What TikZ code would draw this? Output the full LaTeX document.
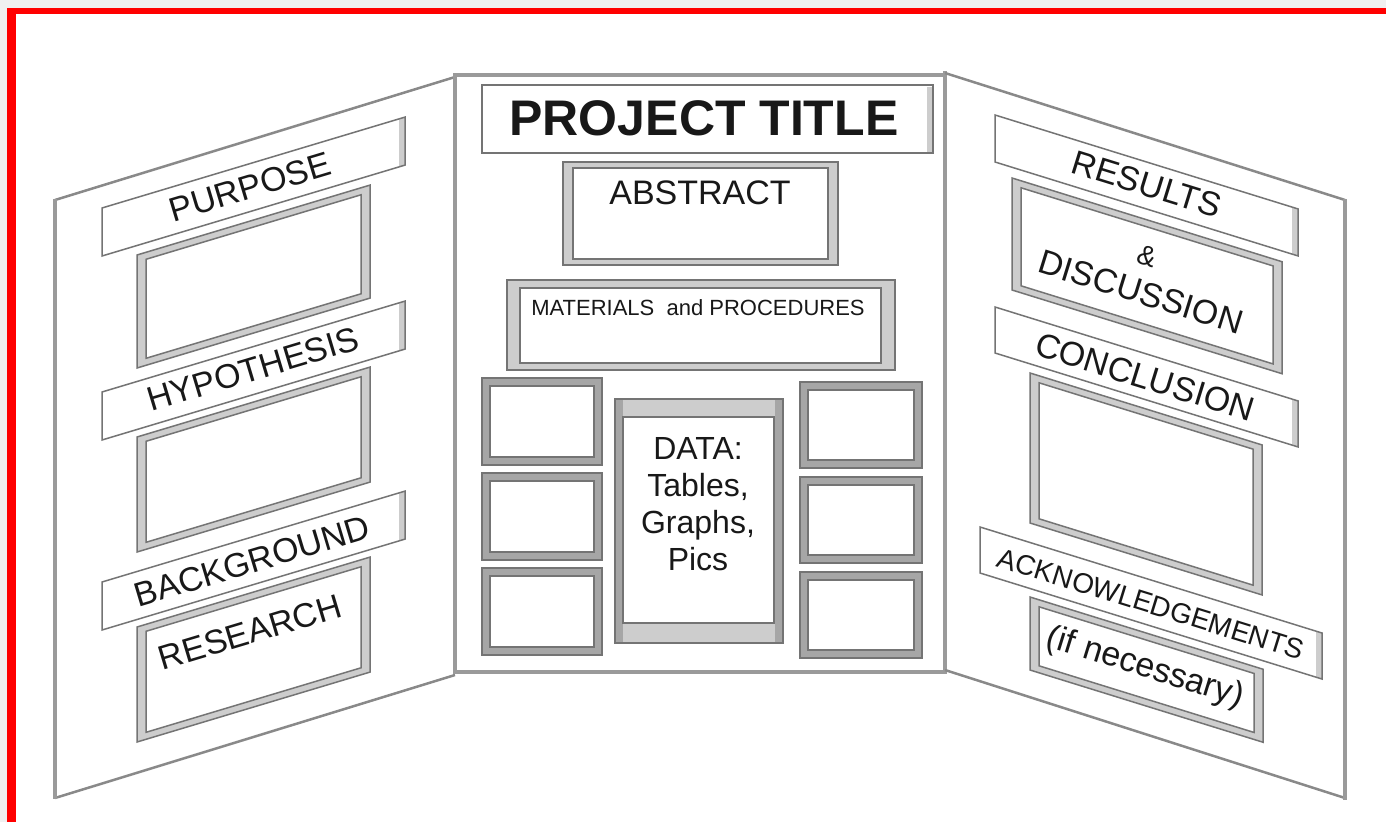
\documentclass[tikz,border=0pt]{standalone}
\usepackage{fontspec}
\setmainfont{Liberation Sans}
\definecolor{bgc}{HTML}{F0F0F0}
\definecolor{ln}{HTML}{747474}
\definecolor{band}{HTML}{CDCDCD}
\definecolor{dband}{HTML}{A6A6A6}
\definecolor{edgec}{HTML}{9A9A9A}
\definecolor{txt}{HTML}{181818}
\tikzset{
  vedge/.style={draw=edgec, line width=4.5},
  sedge/.style={draw=ln!85, line width=2.5},
  frameout/.style={fill=band, draw=ln, line width=1.5},
  framein/.style={fill=white, draw=ln, line width=1.5},
  smallout/.style={fill=dband, draw=ln, line width=1.5},
  stripfill/.style={fill=white},
  stripedge/.style={fill=band},
  stripline/.style={draw=ln, line width=1.5},
  lbl/.style={text=txt, inner sep=0pt, font=\fontsize{34}{38}\selectfont},
  llbl/.style={lbl, rotate=16.7},
  rlbl/.style={lbl, rotate=-17.2},
}
\newcommand{\skbox}[6]{\path[#6] ({#1},{#2}) -- ++({#3},{(#5)*(#3)}) -- ++(0,{#4}) -- ++({-(#3)},{-(#5)*(#3)}) -- cycle;}
\newcommand{\skframe}[5]{%
  \skbox{#1}{#2}{#3}{#4}{#5}{frameout}
  \skbox{#1+9}{#2+7+(#5)*9}{#3-18}{#4-14}{#5}{framein}}
\newcommand{\skstrip}[5]{%
  \skbox{#1}{#2}{#3}{#4}{#5}{stripfill}
  \skbox{#1+#3-6}{#2+(#5)*(#3-6)}{6}{#4}{#5}{stripedge}
  \skbox{#1}{#2}{#3}{#4}{#5}{stripline}}
\begin{document}
\begin{tikzpicture}[x=1pt,y=-1pt]
\useasboundingbox (0,0) rectangle (1386,822);
\fill[white] (0,0) rectangle (1386,822);
\fill[bgc] (0,0) rectangle (1386,8);
\fill[bgc] (0,0) rectangle (7,822);
\fill[red] (7,8) rectangle (16,822);
\fill[red] (7,8) rectangle (1386,14);

% ---------- panels ----------
\draw[sedge] (55,200) -- (455,77);
\draw[sedge] (55,798) -- (455,675);
\draw[vedge] (55,199) -- (55,799);
\draw[vedge] (455,75) -- (945,75);
\draw[vedge] (455,672) -- (945,672);
\draw[vedge] (455,73) -- (455,674);
\draw[vedge] (945,71) -- (945,674);
\draw[sedge] (945,73) -- (1345,200);
\draw[sedge] (945,670) -- (1345,798);
\draw[vedge] (1345,199) -- (1345,800);

% ---------- left panel ----------
\skframe{137}{255}{233}{113}{-0.3}
\skframe{137}{437}{233}{115}{-0.3}
\skframe{137}{627}{233}{115}{-0.3}
\skstrip{102}{208}{303}{48}{-0.3}
\skstrip{102}{392}{303}{48}{-0.3}
\skstrip{102}{582}{303}{48}{-0.3}
\node[llbl] (purpose) at (250,187) {PURPOSE};
\node[llbl] (hypo) at (253,369) {HYPOTHESIS};
\node[llbl] (backg) at (252,561) {BACKGROUND};
\node[llbl] (research) at (250,632) {RESEARCH};

% ---------- center panel ----------
\draw[fill=white, draw=ln, line width=1.5] (482,85) rectangle (933,153);
\fill[band] (927,87) rectangle (932,152);
\node[lbl, font=\fontsize{50}{56}\selectfont\bfseries] (title) at (704,118) {PROJECT TITLE};

\draw[frameout] (563,162) rectangle (838,265);
\draw[framein] (573,168) rectangle (828,259);
\node[lbl] (abstract) at (700,193) {ABSTRACT};

\draw[frameout] (507,280) rectangle (895,370);
\draw[framein] (520,288) rectangle (881,363);
\node[lbl, font=\fontsize{22}{24}\selectfont] (materials) at (698,308) {MATERIALS\ \ and PROCEDURES};

\foreach \t/\b in {378/465, 473/560, 568/655} {
  \draw[smallout] (482,\t) rectangle (602,\b);
  \draw[framein] (490,\t+8) rectangle (594,\b-8);
}
\foreach \t/\b in {382/468, 477/563, 572/658} {
  \draw[smallout] (800,\t) rectangle (922,\b);
  \draw[framein] (808,\t+8) rectangle (914,\b-8);
}
\draw[frameout] (615,399) rectangle (783,643);
\fill[dband] (615,399) rectangle (623,643);
\fill[dband] (775,399) rectangle (783,643);
\draw[ln, line width=1.5] (615,399) rectangle (783,643);
\draw[framein] (623,417) rectangle (774,623);
\node[lbl, font=\fontsize{32}{37}\selectfont, align=center] (data) at (698,504) {DATA:\\Tables,\\Graphs,\\Pics};

% ---------- right panel ----------
\skframe{1012}{178}{270}{112}{0.31}
\skframe{1030}{373}{232}{150}{0.31}
\skframe{1030}{597}{233}{73}{0.31}
\skstrip{995}{115}{303}{47}{0.31}
\skstrip{995}{307}{303}{46}{0.31}
\skstrip{980}{527}{342}{46}{0.31}
\node[rlbl] (results) at (1147,184) {RESULTS};
\node[rlbl, font=\fontsize{28}{32}\selectfont] (amp) at (1147,256) {\&};
\node[rlbl] (discussion) at (1141,292) {DISCUSSION};
\node[rlbl] (conclusion) at (1145,377) {CONCLUSION};
\node[rlbl, font=\fontsize{28}{32}\selectfont] (ack) at (1151,604) {ACKNOWLEDGEMENTS};
\node[rlbl] (ifnec) at (1145,668) {(if necessary)};
\end{tikzpicture}
\end{document}
